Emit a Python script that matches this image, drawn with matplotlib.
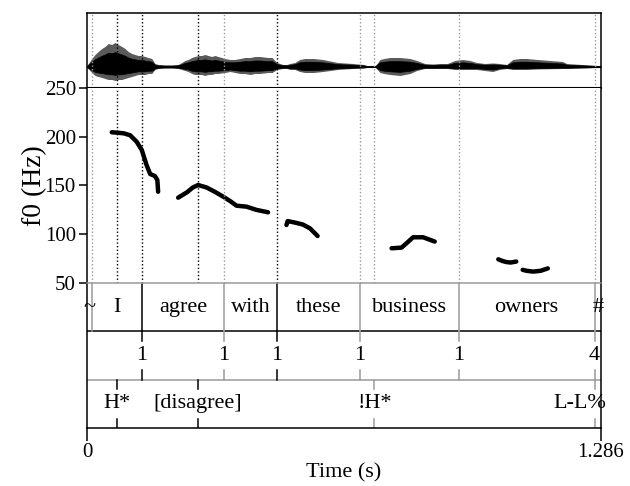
import numpy as np
import matplotlib
matplotlib.use("Agg")
import matplotlib.pyplot as plt

plt.rcParams['font.family'] = ['Liberation Serif', 'DejaVu Serif']

# --- data ---
duration = 1.286

# waveform envelope (time in s, upper / lower amplitude, arbitrary units)
wave_t = [0.000, 0.012, 0.020, 0.028, 0.037, 0.045, 0.053, 0.062, 0.070, 0.078,
          0.087, 0.095, 0.103, 0.112, 0.120, 0.128, 0.137, 0.145, 0.153, 0.162,
          0.170, 0.178, 0.195, 0.213, 0.228, 0.237, 0.245, 0.253, 0.262, 0.270,
          0.278, 0.287, 0.295, 0.303, 0.312, 0.320, 0.328, 0.345, 0.358, 0.370,
          0.383, 0.395, 0.408, 0.420, 0.432, 0.453, 0.463, 0.475, 0.490, 0.500,
          0.508, 0.520, 0.532, 0.545, 0.557, 0.567, 0.590, 0.627, 0.665, 0.692,
          0.700, 0.708, 0.715, 0.722, 0.733, 0.743, 0.758, 0.783, 0.808, 0.825,
          0.845, 0.865, 0.883, 0.902, 0.920, 0.940, 0.958, 0.975, 0.995, 1.015,
          1.032, 1.050, 1.065, 1.083, 1.100, 1.127, 1.190, 1.200, 1.275, 1.283,
          1.285]
wave_top = [1, 8, 12, 15, 18, 20, 23, 22, 24, 22,
            20, 18, 15, 13, 12, 11, 11, 10, 9, 8,
            3, 2, 1.5, 1.5, 2, 4, 6, 7, 9, 10,
            11, 11, 12, 11, 10, 11, 10, 8, 7, 7,
            8, 9, 9, 10, 10, 9, 9, 4, 2, 2,
            3, 4, 7, 8, 8, 8, 7, 4, 3, 2,
            1, 1, 1, 1, 7, 8, 9, 9, 8, 6,
            3, 2.5, 3, 3, 6, 7, 6, 4, 3, 3.5,
            3, 2, 7, 8, 8, 7, 5, 3, 1, 1,
            1]
wave_bot = [1, 6, 9, 10, 11, 12, 13, 13, 14, 13,
            13, 12, 11, 10, 9, 8, 8, 8, 7, 7,
            3, 2, 1.5, 1.5, 2, 3, 4, 5, 7, 8,
            8, 8, 9, 8, 8, 7, 7, 6, 5, 6,
            7, 7, 8, 7, 7, 6, 6, 3, 2, 2,
            3, 3, 5, 6, 6, 6, 5, 3, 2, 1.5,
            1, 1, 1, 1, 6, 7, 8, 9, 7, 4,
            2, 2, 2, 2, 3, 3, 3, 3, 4, 5,
            3, 2, 3, 3, 3, 2.5, 2, 2, 1, 1,
            1]

# f0 contour pieces (s, Hz)
f0_t = [
    [0.062, 0.075, 0.092, 0.108, 0.124, 0.137, 0.149, 0.158, 0.170, 0.176, 0.178],
    [0.228, 0.250, 0.265, 0.278, 0.299, 0.320, 0.341, 0.360, 0.374, 0.399, 0.424, 0.453],
    [0.499, 0.502, 0.520, 0.540, 0.558, 0.577],
    [0.762, 0.787, 0.800, 0.816, 0.841, 0.870],
    [1.029, 1.040, 1.049, 1.060, 1.074],
    [1.090, 1.100, 1.116, 1.135, 1.153],
]
f0_hz = [
    [204.6, 204.2, 203.5, 201.5, 195.0, 186.5, 171.0, 161.8, 159.7, 155.6, 143.6],
    [137.5, 143.0, 148.0, 150.5, 148.0, 143.5, 138.5, 133.5, 129.3, 128.3, 125.0, 122.5],
    [109.5, 113.5, 112.0, 110.0, 106.0, 98.2],
    [85.6, 86.3, 91.0, 96.9, 96.9, 92.5],
    [74.3, 72.5, 71.5, 71.0, 72.0],
    [63.5, 62.5, 61.7, 62.5, 65.0],
]
f0_ticks = [50, 100, 150, 200, 250]

# word tier
word_bounds = [0.0, 0.012, 0.137, 0.343, 0.475, 0.683, 0.930, 1.270, 1.286]
words = ['~', 'I', 'agree', 'with', 'these', 'business', 'owners', '#']

# break index tier
break_t = [0.137, 0.343, 0.475, 0.683, 0.930, 1.270]
break_labels = ['1', '1', '1', '1', '1', '4']

# tone tier
tone_t = [0.075, 0.278, 0.719, 1.270]
tone_labels = ['H*', '[disagree]', '!H*', 'L-L%']

# marks drawn darker in the reference
dark = {0.075, 0.137, 0.278, 0.475}

# --- layout (pixels of a 630 x 486 figure) ---
W, H = 630, 486


def rect(x0, y0, x1, y1):
    return [x0 / W, 1 - y1 / H, (x1 - x0) / W, (y1 - y0) / H]


fig = plt.figure(figsize=(W / 100, H / 100), dpi=100)
ax_w = fig.add_axes(rect(87, 13, 601, 88))
ax_f = fig.add_axes(rect(87, 88, 601, 283))
ax_g = fig.add_axes(rect(87, 283, 601, 428))

lw = 1.1
grey = '#9a9a9a'

for ax in (ax_w, ax_f, ax_g):
    ax.set_xlim(0, duration)
    for s in ax.spines.values():
        s.set_linewidth(lw)

# all boundary times for the dotted lines
marks = sorted(set(word_bounds[1:-1]) | set(break_t) | set(tone_t))

# waveform: outer envelope (spikes) and dense black core
top = np.array(wave_top)
bot = np.array(wave_bot)
ax_w.fill_between(wave_t, -bot, top, color='#5a5a5a', lw=0)
ax_w.fill_between(wave_t, -bot * 0.6, top * 0.6, color='black', lw=0.5)
ax_w.axhline(0, color='black', lw=0.8)
ax_w.set_ylim(-21.5, 53.5)
ax_w.set_xticks([])
ax_w.set_yticks([])
ax_w.spines['bottom'].set_linewidth(1.5)

# pitch
for t, f in zip(f0_t, f0_hz):
    ax_f.plot(t, f, color='black', lw=3.2, solid_capstyle='round', solid_joinstyle='round')
ax_f.set_ylim(50, 250)
ax_f.set_yticks(f0_ticks)
ax_f.set_xticks([])
ax_f.tick_params(axis='y', direction='out', length=6, width=lw, labelsize=15, pad=2)
ax_f.spines['top'].set_visible(False)
ax_f.spines['bottom'].set_visible(False)
ax_f.set_ylabel('f0 (Hz)', fontsize=20, labelpad=-2)

for t in marks:
    c = 'black' if t in dark else grey
    for ax in (ax_w, ax_f):
        ax.axvline(t, color=c, lw=1.0, ls=(0, (1, 1.6)))

# tiers
ax_g.set_ylim(3, 0)
ax_g.spines['top'].set_color(grey)
ax_g.axhline(1, color='black', lw=lw)
ax_g.axhline(2, color=grey, lw=lw)

for t in word_bounds[1:-1]:
    ax_g.plot([t, t], [0, 1], color='black' if t in dark else grey, lw=lw)
for i, w in enumerate(words):
    ax_g.text((word_bounds[i] + word_bounds[i + 1]) / 2, 0.5, w,
              ha='center', va='center', fontsize=16)

for t, lab in zip(break_t, break_labels):
    c = 'black' if t in dark else grey
    ax_g.plot([t, t], [1, 1.19], color=c, lw=lw)
    ax_g.plot([t, t], [1.81, 2], color=c, lw=lw)
    ax_g.text(t, 1.5, lab, ha='center', va='center', fontsize=16)

for t, lab in zip(tone_t, tone_labels):
    c = 'black' if t in dark else grey
    ax_g.plot([t, t], [2, 2.19], color=c, lw=lw)
    ax_g.plot([t, t], [2.81, 3], color=c, lw=lw)
    dx = -15 if t == tone_t[-1] else 0
    ax_g.annotate(lab, (t, 2.5), xytext=(dx, 0), textcoords='offset pixels',
                  ha='center', va='center', fontsize=16)

ax_g.set_yticks([])
ax_g.set_xticks([0, duration])
ax_g.set_xticklabels(['0', '1.286'])
ax_g.tick_params(axis='x', direction='out', length=9, width=lw, labelsize=15, pad=2)
ax_g.set_xlabel('Time (s)', fontsize=16, labelpad=1)

fig.savefig('out.png', dpi=100)
